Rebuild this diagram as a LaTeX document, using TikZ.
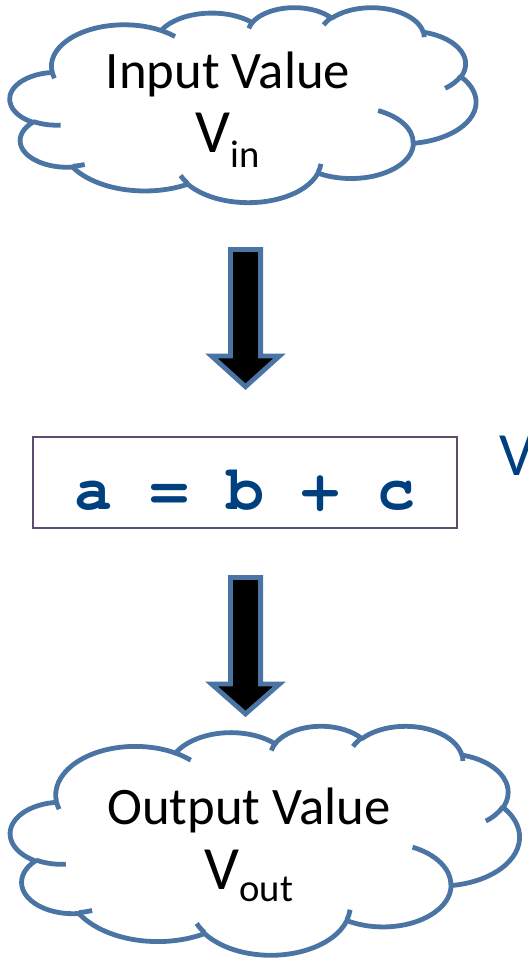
\documentclass[tikz,border=0pt]{standalone}
\usepackage{fontspec}
\setmainfont{Carlito}
\newfontfamily\codefont{texgyrecursor-bold.otf}
\definecolor{cloudblue}{HTML}{4A74A4}
\definecolor{codeblue}{HTML}{00407F}
\definecolor{boxline}{HTML}{5E4C6E}
\pgfmathdeclarefunction{ptang}{3}{\pgfmathparse{atan2(#1*sin(#3),#2*cos(#3))}}
\pgfmathdeclarefunction{pdelta}{4}{\pgfmathparse{mod(atan2(#1*sin(#3+#4),#2*cos(#3+#4))-atan2(#1*sin(#3),#2*cos(#3))+720,360)}}
\tikzset{
  puff/.style n args={4}{x radius=#1, y radius=#2, start angle={ptang(#1,#2,#3)}, delta angle={pdelta(#1,#2,#3,#4)}},
  cloudline/.style={draw=cloudblue, line width=0.096cm, line join=round},
  cloudtext/.style={align=center, inner sep=0pt},
  blockarr/.style={draw=cloudblue, fill=black, line width=0.096cm, line join=miter},
  codebox/.style={draw=boxline, line width=0.03cm, minimum width=8.48cm, minimum height=1.82cm, text=codeblue, font=\fontsize{36}{40}\selectfont\codefont, text height=31pt, text depth=0pt}
}
\newcommand\drawcloud[4]{%
  \begin{scope}[shift={(#1,#2)}, x=#3, y=-#4]
    \path[cloudline] (3.900,14.370)
      arc[puff={6.753}{9.190}{-190.4875}{123.7805}]
      arc[puff={5.333}{7.267}{-144.1024}{89.9452}]
      arc[puff={4.365}{5.945}{-145.8079}{99.7230}]
      arc[puff={4.857}{6.595}{-130.9861}{117.2417}]
      arc[puff={5.333}{7.273}{-78.7089}{109.0269}]
      arc[puff={6.775}{9.220}{-46.2673}{130.2690}]
      arc[puff={5.785}{7.867}{0.6250}{114.0333}]
      arc[puff={6.752}{9.215}{22.4516}{115.1726}]
      arc[puff={7.720}{10.543}{66.2426}{75.7110}]
      arc[puff={4.360}{5.918}{-274.9421}{146.7356}]
      arc[puff={4.345}{5.945}{-246.8285}{152.5189}]
      -- cycle;
    \path[cloudline]
      (4.693,26.177) arc[puff={4.345}{5.945}{86.7420}{26.4295}]
      (6.928,34.899) arc[puff={4.360}{5.918}{73.6105}{11.4475}]
      (16.478,39.090) arc[puff={6.752}{9.215}{137.6242}{14.0811}]
      (28.827,34.751) arc[puff={6.752}{9.215}{6.4533}{15.9984}]
      (34.129,22.954) arc[puff={5.785}{7.867}{-70.2924}{70.9174}]
      (41.798,15.354) arc[puff={5.333}{7.273}{30.3180}{27.7515}]
      (38.324,5.426) arc[puff={4.857}{6.595}{-13.7443}{14.8589}]
      (29.078,3.952) arc[puff={4.857}{6.595}{-149.1815}{18.1954}]
      (22.141,4.720) arc[puff={4.365}{5.945}{-163.4943}{17.6864}]
      (14.000,5.192) arc[puff={6.753}{9.190}{-66.7070}{12.3194}]
      (4.127,15.789) arc[puff={6.753}{9.190}{157.6544}{11.8582}];
  \end{scope}}

\begin{document}
\begin{tikzpicture}[x=0.02cm, y=-0.02cm]
  \useasboundingbox (0,0) rectangle (528,958);

  \drawcloud{10}{7}{0.215741cm}{0.090278cm}
  \node[cloudtext, font=\fontsize{30}{36.4}\selectfont] (vin) at (228,110)
    {Input Value\\{\fontsize{35}{36}\selectfont V}\raisebox{-8.5pt}{\fontsize{22}{24}\selectfont in}};

  \coordinate (down1) at (245.5,249.4);
  \draw[blockarr] (down1) ++(-15.1,0) -- ++(0,106.5) -- ++(-19,0) -- ++(34.1,30.8)
    -- ++(34.1,-30.8) -- ++(-19,0) -- ++(0,-106.5) -- cycle;

  \node[codebox] (expr) at (245,482.5) {a = b + c};
  \node[anchor=base west, inner sep=0pt, text=codeblue, font=\fontsize{35}{40}\selectfont] (vcut) at (499,475) {V};

  \coordinate (down2) at (245.5,577.4);
  \draw[blockarr] (down2) ++(-15.1,0) -- ++(0,106.5) -- ++(-19,0) -- ++(34.1,30.0)
    -- ++(34.1,-30.0) -- ++(-19,0) -- ++(0,-106.5) -- cycle;

  \drawcloud{10.5}{725.5}{0.235648cm}{0.106019cm}
  \node[cloudtext, font=\fontsize{30}{37}\selectfont] (vout) at (249,845)
    {Output Value\\{\fontsize{35}{36}\selectfont V}\raisebox{-7.2pt}{\fontsize{22}{24}\selectfont out}};
\end{tikzpicture}
\end{document}
